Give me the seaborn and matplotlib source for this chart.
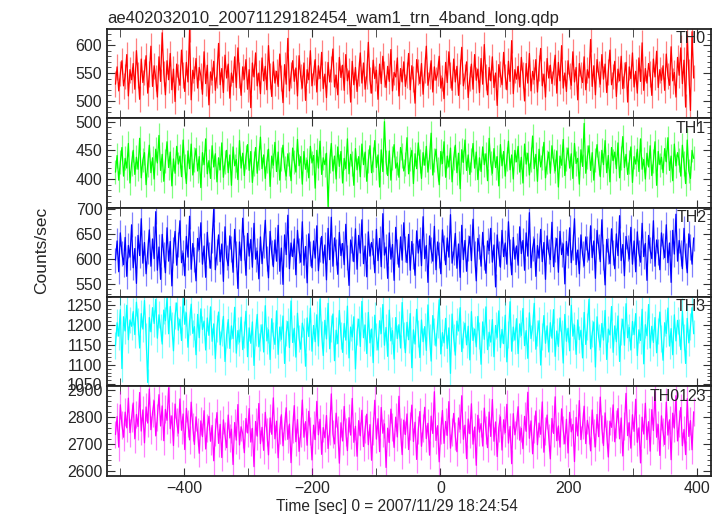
import numpy as np
import matplotlib
matplotlib.use("Agg")
import matplotlib.pyplot as plt
import seaborn as sns
from matplotlib.ticker import MultipleLocator

# light curves, counts/sec, one value per ~2.5 s bin from t=-507 to t=395
th0 = [530, 561, 518, 549, 572, 527, 544, 583, 509, 556,
       538, 567, 521, 590, 546, 503, 575, 533, 552, 581,
       514, 548, 598, 526, 563, 541, 507, 579, 535, 622,
       549, 511, 572, 538, 585, 520, 557, 499, 566, 543,
       528, 591, 547, 517, 569, 534, 628, 502, 555, 540,
       576, 523, 560, 545, 512, 588, 531, 564, 493, 552,
       537, 571, 519, 547, 603, 529, 558, 515, 582, 541,
       566, 505, 550, 533, 579, 524, 595, 546, 510, 561,
       539, 574, 521, 556, 488, 568, 543, 586, 527, 550,
       513, 577, 536, 562, 520, 599, 545, 508, 570, 532,
       553, 526, 584, 541, 497, 565, 530, 612, 518, 547,
       572, 535, 559, 509, 581, 544, 523, 568, 501, 556,
       538, 590, 527, 551, 574, 516, 563, 540, 587, 522,
       548, 506, 569, 534, 557, 593, 525, 546, 511, 578,
       542, 564, 519, 583, 536, 554, 498, 571, 529, 560,
       517, 549, 586, 532, 568, 521, 545, 605, 537, 514,
       573, 540, 555, 503, 566, 531, 580, 548, 524, 562,
       535, 592, 518, 551, 543, 577, 509, 558, 534, 570,
       526, 547, 585, 520, 563, 539, 496, 574, 552, 531,
       567, 512, 556, 598, 528, 545, 572, 516, 561, 537,
       549, 580, 523, 541, 504, 569, 533, 588, 547, 519,
       575, 534, 562, 510, 553, 596, 527, 544, 570, 506,
       540, 566, 521, 583, 537, 557, 515, 576, 530, 601,
       543, 511, 560, 536, 579, 524, 550, 492, 565, 548,
       529, 587, 544, 520, 571, 535, 608, 513, 556, 539,
       562, 525, 578, 546, 500, 567, 532, 585, 518, 553,
       538, 574, 516, 559, 594, 527, 548, 507, 576, 541,
       564, 531, 552, 582, 514, 569, 536, 599, 523, 550,
       517, 572, 545, 528, 588, 534, 560, 502, 567, 546,
       533, 579, 520, 556, 541, 610, 526, 563, 511, 574,
       548, 530, 583, 539, 566, 515, 552, 591, 529, 544,
       571, 508, 557, 536, 580, 522, 547, 569, 498, 561,
       540, 586, 525, 553, 514, 577, 535, 604, 519, 558,
       532, 567, 548, 510, 575, 543, 589, 524, 556, 537,
       563, 519, 584, 545, 528, 597, 536, 551, 507, 578,
       546, 595, 531, 573, 489, 618, 552, 483, 624, 541]

th1 = [412, 441, 398, 429, 455, 405, 436, 419, 462, 393,
       427, 450, 408, 438, 417, 471, 402, 433, 446, 390,
       424, 459, 411, 437, 400, 452, 428, 476, 415, 443,
       396, 431, 465, 420, 447, 388, 435, 410, 457, 426,
       440, 404, 468, 422, 392, 449, 418, 461, 407, 434,
       453, 414, 439, 385, 446, 425, 470, 409, 432, 401,
       458, 421, 444, 395, 437, 416, 463, 403, 429, 450,
       411, 442, 389, 456, 423, 434, 399, 467, 419, 445,
       406, 438, 460, 415, 448, 394, 427, 455, 410, 436,
       473, 418, 442, 401, 431, 452, 387, 440, 424, 464,
       413, 447, 398, 435, 459, 420, 405, 444, 426, 397,
       454, 430, 412, 469, 423, 439, 391, 448, 417, 433,
       402, 457, 428, 441, 384, 450, 419, 466, 408, 437,
       425, 445, 352, 431, 462, 414, 440, 400, 456, 422,
       448, 393, 436, 418, 470, 409, 443, 427, 389, 453,
       416, 439, 404, 461, 425, 447, 396, 432, 458, 411,
       434, 467, 420, 442, 386, 451, 413, 500, 430, 406,
       449, 398, 437, 460, 419, 428, 403, 455, 441, 414,
       426, 472, 409, 435, 450, 392, 444, 418, 463, 431,
       401, 446, 424, 457, 412, 438, 480, 407, 433, 452,
       417, 390, 448, 427, 465, 403, 440, 421, 454, 395,
       436, 459, 411, 445, 383, 451, 429, 468, 415, 442,
       408, 433, 462, 419, 447, 399, 437, 413, 456, 425,
       444, 397, 471, 428, 410, 453, 420, 439, 388, 460,
       423, 448, 405, 435, 466, 416, 442, 400, 450, 430,
       457, 412, 438, 393, 461, 426, 445, 407, 434, 475,
       418, 443, 396, 452, 421, 437, 464, 402, 429, 447,
       410, 458, 432, 414, 449, 386, 440, 424, 469, 406,
       435, 454, 419, 444, 401, 462, 427, 436, 391, 451,
       422, 497, 410, 439, 458, 415, 446, 398, 433, 460,
       428, 404, 450, 425, 467, 411, 441, 395, 455, 432,
       447, 418, 463, 402, 437, 474, 420, 443, 408, 429,
       456, 394, 439, 426, 452, 413, 470, 417, 434, 400,
       445, 421, 458, 406, 431, 465, 389, 448, 425, 438,
       411, 453, 430, 472, 415, 440, 397, 461, 423, 446,
       433, 405, 459, 427, 392, 468, 414, 401, 450, 436]

th2 = [598, 636, 575, 652, 611, 589, 643, 566, 627, 604,
       668, 583, 621, 552, 647, 607, 680, 592, 633, 571,
       615, 658, 586, 640, 601, 694, 578, 624, 560, 649,
       609, 573, 662, 596, 635, 547, 618, 655, 588, 629,
       676, 593, 612, 567, 645, 604, 685, 580, 631, 599,
       557, 641, 619, 672, 590, 626, 564, 653, 608, 582,
       637, 699, 579, 614, 648, 595, 630, 556, 664, 603,
       587, 646, 620, 574, 659, 610, 542, 634, 597, 681,
       623, 568, 651, 606, 639, 584, 671, 600, 616, 561,
       644, 591, 628, 677, 602, 563, 655, 613, 585, 638,
       596, 667, 576, 622, 550, 648, 609, 687, 581, 632,
       605, 640, 569, 657, 617, 594, 674, 588, 625, 553,
       650, 611, 583, 636, 602, 666, 577, 619, 645, 592,
       628, 559, 661, 599, 683, 586, 642, 614, 570, 653,
       607, 631, 589, 669, 603, 548, 638, 621, 595, 660,
       580, 647, 612, 678, 591, 626, 565, 654, 606, 633,
       616, 573, 659, 597, 641, 585, 690, 608, 624, 562,
       652, 600, 629, 558, 663, 615, 584, 644, 598, 672,
       620, 593, 649, 578, 635, 606, 568, 656, 612, 639,
       587, 684, 601, 627, 554, 646, 618, 596, 665, 579,
       634, 608, 571, 658, 623, 589, 642, 604, 688, 592,
       613, 651, 582, 630, 564, 667, 599, 637, 576, 622,
       645, 597, 679, 610, 557, 641, 625, 586, 653, 603,
       572, 636, 617, 661, 594, 628, 545, 648, 611, 584,
       657, 605, 632, 590, 674, 614, 569, 643, 600, 626,
       588, 664, 611, 637, 578, 652, 606, 692, 583, 621,
       640, 566, 627, 602, 659, 595, 633, 560, 646, 615,
       599, 673, 585, 619, 641, 574, 655, 609, 630, 551,
       635, 607, 662, 593, 624, 680, 589, 618, 571, 648,
       610, 587, 644, 620, 598, 666, 603, 636, 562, 657,
       625, 595, 678, 604, 549, 639, 616, 591, 660, 613,
       581, 650, 607, 686, 597, 629, 567, 645, 622, 600,
       663, 590, 636, 575, 654, 612, 594, 671, 605, 631,
       558, 647, 618, 601, 676, 586, 638, 614, 579, 652,
       626, 603, 668, 593, 632, 554, 657, 610, 689, 596,
       637, 612, 581, 661, 607, 573, 650, 624, 590, 642]

th3 = [1148, 1206, 1172, 1239, 1090, 1221, 1185, 1250, 1163, 1213,
       1197, 1234, 1176, 1258, 1208, 1142, 1229, 1190, 1262, 1171,
       1055, 1219, 1183, 1244, 1204, 1265, 1167, 1226, 1193, 1152,
       1238, 1211, 1270, 1178, 1247, 1199, 1135, 1224, 1256, 1187,
       1215, 1161, 1268, 1202, 1231, 1144, 1209, 1253, 1179, 1196,
       1125, 1227, 1168, 1241, 1189, 1210, 1137, 1218, 1174, 1246,
       1159, 1203, 1115, 1192, 1233, 1150, 1181, 1222, 1108, 1175,
       1214, 1141, 1198, 1166, 1245, 1129, 1186, 1157, 1220, 1138,
       1177, 1235, 1120, 1193, 1154, 1208, 1098, 1182, 1227, 1145,
       1169, 1201, 1132, 1249, 1160, 1188, 1113, 1216, 1173, 1151,
       1236, 1126, 1195, 1164, 1223, 1103, 1180, 1209, 1143, 1261,
       1156, 1192, 1119, 1230, 1167, 1139, 1205, 1184, 1096, 1218,
       1171, 1243, 1134, 1199, 1158, 1226, 1147, 1266, 1176, 1123,
       1212, 1165, 1255, 1140, 1191, 1228, 1110, 1187, 1153, 1237,
       1174, 1131, 1204, 1162, 1248, 1117, 1195, 1170, 1221, 1089,
       1183, 1215, 1146, 1260, 1168, 1200, 1128, 1232, 1155, 1190,
       1105, 1225, 1172, 1137, 1211, 1179, 1252, 1149, 1194, 1121,
       1238, 1160, 1186, 1114, 1219, 1166, 1201, 1142, 1257, 1175,
       1130, 1207, 1163, 1229, 1092, 1188, 1152, 1240, 1178, 1118,
       1213, 1158, 1196, 1136, 1251, 1170, 1109, 1224, 1184, 1147,
       1202, 1264, 1127, 1181, 1155, 1217, 1141, 1193, 1078, 1228,
       1168, 1124, 1210, 1185, 1244, 1133, 1176, 1205, 1150, 1197,
       1112, 1234, 1161, 1190, 1145, 1222, 1173, 1101, 1208, 1164,
       1246, 1138, 1182, 1157, 1214, 1120, 1199, 1169, 1236, 1143,
       1189, 1153, 1225, 1107, 1177, 1259, 1134, 1195, 1162, 1216,
       1128, 1203, 1174, 1242, 1148, 1186, 1116, 1231, 1166, 1193,
       1255, 1139, 1180, 1211, 1099, 1171, 1224, 1154, 1198, 1132,
       1206, 1167, 1239, 1121, 1185, 1146, 1218, 1178, 1104, 1227,
       1159, 1192, 1135, 1250, 1172, 1200, 1126, 1213, 1163, 1187,
       1117, 1232, 1151, 1196, 1265, 1140, 1179, 1208, 1094, 1221,
       1170, 1144, 1204, 1162, 1237, 1113, 1190, 1175, 1247, 1131,
       1198, 1158, 1223, 1108, 1183, 1215, 1149, 1254, 1168, 1194,
       1137, 1209, 1176, 1229, 1123, 1188, 1161, 1240, 1102, 1201,
       1173, 1252, 1142, 1197, 1156, 1219, 1130, 1185, 1233, 1165,
       1111, 1206, 1179, 1243, 1147, 1191, 1125, 1226, 1160, 1212,
       1182, 1138, 1235, 1170, 1103, 1217, 1155, 1196, 1244, 1178]

th0123 = [2735, 2802, 2688, 2846, 2771, 2725, 2819, 2760, 2871, 2742,
          2796, 2853, 2719, 2810, 2765, 2892, 2748, 2827, 2704, 2838,
          2778, 2905, 2753, 2816, 2861, 2730, 2799, 2884, 2767, 2842,
          2712, 2829, 2788, 2910, 2757, 2805, 2694, 2849, 2782, 2740,
          2868, 2751, 2812, 2679, 2833, 2776, 2715, 2856, 2763, 2698,
          2801, 2744, 2665, 2786, 2727, 2824, 2681, 2759, 2803, 2710,
          2769, 2637, 2745, 2817, 2702, 2773, 2649, 2790, 2731, 2686,
          2808, 2722, 2755, 2623, 2780, 2714, 2847, 2696, 2764, 2738,
          2667, 2795, 2741, 2832, 2707, 2758, 2615, 2784, 2729, 2851,
          2701, 2762, 2676, 2818, 2743, 2659, 2797, 2736, 2872, 2719,
          2785, 2648, 2752, 2809, 2693, 2768, 2835, 2717, 2774, 2630,
          2756, 2843, 2708, 2791, 2672, 2739, 2864, 2725, 2783, 2695,
          2822, 2747, 2640, 2770, 2716, 2859, 2734, 2792, 2661, 2761,
          2723, 2806, 2683, 2749, 2887, 2737, 2700, 2815, 2754, 2628,
          2779, 2711, 2840, 2744, 2675, 2798, 2733, 2870, 2706, 2766,
          2654, 2787, 2730, 2826, 2690, 2757, 2811, 2697, 2772, 2639,
          2748, 2863, 2718, 2794, 2671, 2836, 2740, 2775, 2612, 2759,
          2705, 2830, 2762, 2687, 2800, 2726, 2878, 2743, 2660, 2789,
          2735, 2812, 2679, 2766, 2845, 2709, 2781, 2642, 2753, 2821,
          2691, 2760, 2837, 2720, 2777, 2658, 2804, 2739, 2895, 2713,
          2768, 2633, 2750, 2825, 2702, 2784, 2732, 2858, 2684, 2746,
          2814, 2729, 2671, 2797, 2755, 2880, 2717, 2770, 2645, 2793,
          2738, 2850, 2699, 2763, 2620, 2807, 2744, 2776, 2692, 2834,
          2751, 2686, 2819, 2728, 2866, 2710, 2782, 2653, 2761, 2801,
          2677, 2790, 2742, 2848, 2703, 2765, 2626, 2813, 2734, 2771,
          2839, 2714, 2758, 2682, 2803, 2747, 2893, 2721, 2786, 2663,
          2756, 2823, 2697, 2778, 2736, 2857, 2669, 2749, 2808, 2724,
          2644, 2795, 2739, 2876, 2712, 2767, 2688, 2831, 2753, 2700,
          2792, 2666, 2818, 2745, 2773, 2634, 2799, 2730, 2862, 2716,
          2769, 2841, 2701, 2788, 2752, 2674, 2827, 2741, 2689, 2810,
          2727, 2875, 2757, 2694, 2816, 2738, 2651, 2785, 2762, 2846,
          2708, 2774, 2832, 2719, 2797, 2655, 2766, 2889, 2731, 2779,
          2684, 2809, 2747, 2867, 2706, 2760, 2629, 2800, 2737, 2852,
          2716, 2783, 2673, 2828, 2750, 2894, 2725, 2772, 2657, 2805,
          2744, 2698, 2856, 2733, 2790, 2641, 2815, 2759, 2880, 2711,
          2776, 2836, 2693, 2754, 2660, 2869, 2728, 2787, 2678, 2820]

labels = ["TH0", "TH1", "TH2", "TH3", "TH0123"]
errors = [23, 21, 25, 34, 52]
colors = ["#ff0000", "#00ff00", "#0000ff", "#00ffff", "#ff00ff"]
ylims = [(469, 629), (350, 506), (525, 702), (1045, 1271), (2581, 2915)]
yticks = [[500, 550, 600], [400, 450, 500], [550, 600, 650, 700],
          [1050, 1100, 1150, 1200, 1250], [2600, 2700, 2800, 2900]]
yminor = [10, 10, 10, 10, 20]

series = [th0, th1, th2, th3, th0123]
t = np.linspace(-507, 395, len(th0))

sns.set_style("ticks")
plt.rcParams["font.family"] = ["Liberation Sans", "DejaVu Sans"]

fig, axes = plt.subplots(5, 1, sharex=True, figsize=(7.24, 5.16), dpi=100)
fig.subplots_adjust(left=0.148, right=0.982, top=0.944, bottom=0.078, hspace=0)

for ax, vals, lab, err, c, yl, yt, ym in zip(axes, series, labels, errors,
                                             colors, ylims, yticks, yminor):
    v = np.array(vals)
    ax.vlines(t, v - err, v + err, color=c, alpha=0.5, lw=0.9)
    sns.lineplot(x=t, y=v, ax=ax, color=c, lw=0.9)
    ax.set_ylim(yl)
    ax.set_yticks(yt)
    ax.yaxis.set_minor_locator(MultipleLocator(ym))
    ax.text(0.992, 0.975, lab, transform=ax.transAxes, ha="right", va="top",
            fontsize=11.5)
    ax.tick_params(which="both", direction="in", top=True, right=True,
                   labelsize=11.5, color="#333333")
    ax.tick_params(which="major", length=6)
    ax.tick_params(which="minor", length=3)
    for s in ax.spines.values():
        s.set_linewidth(1.3)
        s.set_color("#222222")
    ax.set_ylabel("")

axes[-1].set_xlim(-520, 422)
axes[-1].set_xticks([-400, -200, 0, 200, 400])
axes[-1].xaxis.set_minor_locator(MultipleLocator(100))
for ax in axes:
    ax.tick_params(axis="x", which="minor", length=6)

axes[0].set_title("ae402032010_20071129182454_wam1_trn_4band_long.qdp",
                  loc="left", fontsize=12, pad=4)
axes[-1].set_xlabel("Time [sec] 0 = 2007/11/29 18:24:54", fontsize=11.2,
                    labelpad=4)
axes[-1].xaxis.set_label_coords(0.48, -0.26)
fig.text(0.057, 0.515, "Counts/sec", rotation=90, va="center", ha="center",
         fontsize=12.5)

plt.savefig("out.png", dpi=100)
